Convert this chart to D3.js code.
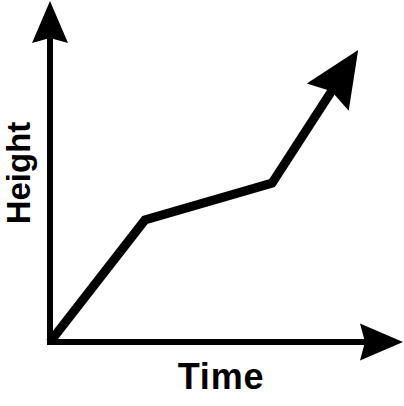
<!DOCTYPE html>
<html>
<head>
<meta charset="utf-8">
<script src="https://cdn.jsdelivr.net/npm/d3@7"></script>
<style>
  html, body { margin: 0; padding: 0; background: #fff; }
  svg { display: block; }
</style>
</head>
<body>
<svg id="chart" width="404" height="406"></svg>
<script>
// ---- data ----
const timeValues   = [0, 26.9, 62.9, 87.3];
const heightValues = [0, 35.8, 46.6, 85.6];
const xLabel = "Time";
const yLabel = "Height";
const xDomain = [0, 100];
const yDomain = [0, 100];

// ---- layout ----
const svg = d3.select("#chart");
const x = d3.scaleLinear().domain(xDomain).range([50, 403]);
const y = d3.scaleLinear().domain(yDomain).range([342, 1]);

function arrowHead(tip, from, len, hw, notch) {
  const dx = tip[0] - from[0], dy = tip[1] - from[1];
  const L = Math.hypot(dx, dy);
  const ux = dx / L, uy = dy / L;
  const px = -uy, py = ux;
  const bx = tip[0] - ux * len, by = tip[1] - uy * len;
  const nx = tip[0] - ux * (len - notch), ny = tip[1] - uy * (len - notch);
  return {
    path: `M${tip[0]},${tip[1]}L${bx + px * hw},${by + py * hw}L${nx},${ny}L${bx - px * hw},${by - py * hw}Z`,
    notch: [nx + ux * 1, ny + uy * 1]
  };
}

// axes
const origin = [x(xDomain[0]), y(yDomain[0])];
const xEnd = [x(xDomain[1]), y(yDomain[0])];
const yEnd = [x(xDomain[0]), y(yDomain[1])];

const xHead = arrowHead(xEnd, origin, 43, 18.5, 5);
const yHead = arrowHead(yEnd, origin, 42, 18, 5);

svg.append("path")
  .attr("d", `M${xHead.notch[0]},${origin[1]}L${origin[0]},${origin[1]}L${origin[0]},${yHead.notch[1]}`)
  .attr("fill", "none").attr("stroke", "#000").attr("stroke-width", 6)
  .attr("stroke-linejoin", "miter");
svg.append("path").attr("d", xHead.path).attr("fill", "#000");
svg.append("path").attr("d", yHead.path).attr("fill", "#000");

// data line
const pts = timeValues.map((t, i) => [x(t), y(heightValues[i])]);
const n = pts.length;
const lineHead = arrowHead(pts[n - 1], pts[n - 2], 56, 25, 7);
const linePts = pts.slice(0, n - 1).concat([lineHead.notch]);

svg.append("path")
  .attr("d", d3.line()(linePts))
  .attr("fill", "none").attr("stroke", "#000").attr("stroke-width", 9)
  .attr("stroke-linejoin", "miter");
svg.append("path").attr("d", lineHead.path).attr("fill", "#000");

// labels
svg.append("text")
  .attr("x", 221).attr("y", 389)
  .attr("text-anchor", "middle")
  .attr("font-family", "Liberation Sans, Arial, sans-serif")
  .attr("font-weight", "bold").attr("font-size", 36)
  .attr("letter-spacing", 0.8)
  .text(xLabel);

svg.append("text")
  .attr("transform", "translate(30,173) rotate(-90)")
  .attr("text-anchor", "middle")
  .attr("font-family", "Liberation Sans, Arial, sans-serif")
  .attr("font-weight", "bold").attr("font-size", 33)
  .text(yLabel);
</script>
</body>
</html>
